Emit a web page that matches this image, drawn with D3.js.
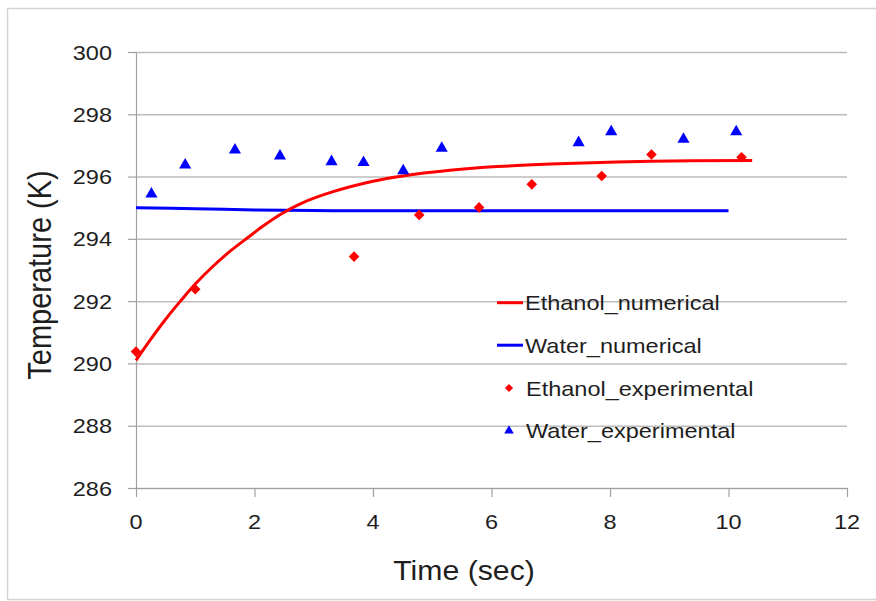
<!DOCTYPE html>
<html>
<head>
<meta charset="utf-8">
<script src="https://cdn.jsdelivr.net/npm/d3@7"></script>
<style>
  body { margin: 0; background: #fff; }
  text { font-family: "Liberation Sans", Arial, sans-serif; fill: #1e1e1e; }
</style>
</head>
<body>
<div id="chart-area"></div>
<script>
// Ethanol numerical curve
const ethNumTime = [0, 0.25, 0.5, 0.75, 1.0, 1.3, 1.6, 1.9, 2.15, 2.45, 2.8, 3.3, 4.0, 4.5, 5.3, 6.1, 7.0, 8.7, 10.4];
const ethNumTemp = [290.1, 290.78, 291.42, 292.0, 292.55, 293.12, 293.62, 294.06, 294.42, 294.8, 295.15, 295.5, 295.85, 296.02, 296.2, 296.32, 296.4, 296.49, 296.52];

// Water numerical curve
const watNumTime = [0, 1, 2, 3, 4, 6, 8, 10];
const watNumTemp = [295.0, 294.97, 294.93, 294.91, 294.9, 294.9, 294.9, 294.9];

// Ethanol experimental points
const ethExpTime = [0, 1.0, 3.68, 4.78, 5.79, 6.68, 7.86, 8.70, 10.22];
const ethExpTemp = [290.38, 292.38, 293.43, 294.77, 295.01, 295.75, 296.02, 296.71, 296.62];

// Water experimental points
const watExpTime = [0.26, 0.83, 1.67, 2.43, 3.30, 3.84, 4.51, 5.16, 7.47, 8.02, 9.24, 10.13];
const watExpTemp = [295.44, 296.37, 296.85, 296.66, 296.48, 296.45, 296.19, 296.91, 297.09, 297.44, 297.20, 297.44];

const xTicks = [0, 2, 4, 6, 8, 10, 12];
const yTicks = [286, 288, 290, 292, 294, 296, 298, 300];
const legendNames = ['Ethanol_numerical', 'Water_numerical', 'Ethanol_experimental', 'Water_experimental'];

const margin = { left: 136, right: 29, top: 52, bottom: 113 };
const width = 876 - margin.left - margin.right;
const height = 601 - margin.top - margin.bottom;
const stretch = 1.12;

const svg = d3.select('#chart-area').append('svg')
  .attr('width', 876)
  .attr('height', 601);

// outer frame
svg.append('rect')
  .attr('x', 7.5).attr('y', 8.5)
  .attr('width', 900).attr('height', 591)
  .attr('fill', 'none')
  .attr('stroke', '#d4d4d4')
  .attr('stroke-width', 1.5);

const g = svg.append('g')
  .attr('transform', `translate(${margin.left}, ${margin.top})`);

const x = d3.scaleLinear().domain([0, 12]).range([0, width]);
const y = d3.scaleLinear().domain([286, 300]).range([height, 0]);

// gridlines
g.append('g')
  .attr('class', 'grid')
  .call(d3.axisLeft(y).tickValues(yTicks).tickSize(-width).tickFormat(''))
  .call(a => a.select('.domain').remove())
  .selectAll('line')
    .attr('stroke', '#bdbdbd')
    .attr('stroke-width', 1.5);

// y axis
const yAxis = g.append('g')
  .attr('class', 'y-axis')
  .call(d3.axisLeft(y).tickValues(yTicks).tickSize(8).tickSizeOuter(0).tickFormat(''));
yAxis.selectAll('line, path').attr('stroke', '#a0a0a0').attr('stroke-width', 1.2);

// x axis
const xAxis = g.append('g')
  .attr('class', 'x-axis')
  .attr('transform', `translate(0, ${height})`)
  .call(d3.axisBottom(x).tickValues(xTicks).tickSize(9).tickSizeOuter(0).tickFormat(''));
xAxis.selectAll('line, path').attr('stroke', '#a0a0a0').attr('stroke-width', 1.2);

// tick labels (text is a bit wide in the original, so stretch it)
g.selectAll('.ylab')
  .data(yTicks)
  .enter().append('text')
    .attr('class', 'ylab')
    .attr('transform', d => `translate(-24, ${y(d) + 7.5}) scale(${stretch},1)`)
    .attr('text-anchor', 'end')
    .attr('font-size', '21px')
    .text(d => d);

g.selectAll('.xlab')
  .data(xTicks)
  .enter().append('text')
    .attr('class', 'xlab')
    .attr('transform', d => `translate(${x(d)}, ${height + 41}) scale(${stretch},1)`)
    .attr('text-anchor', 'middle')
    .attr('font-size', '21px')
    .text(d => d);

// axis titles
svg.append('text')
  .attr('transform', `translate(464, 580) scale(${stretch},1)`)
  .attr('text-anchor', 'middle')
  .attr('font-size', '27px')
  .text('Time (sec)');

svg.append('text')
  .attr('transform', `translate(51, 275) rotate(-90) scale(1,${stretch})`)
  .attr('text-anchor', 'middle')
  .attr('font-size', '29px')
  .text('Temperature (K)');

// lines
const line = d3.line()
  .x(d => x(d[0]))
  .y(d => y(d[1]))
  .curve(d3.curveCatmullRom.alpha(0.5));

g.append('path')
  .datum(watNumTime.map((t, i) => [t, watNumTemp[i]]))
  .attr('d', line)
  .attr('fill', 'none')
  .attr('stroke', '#0000ff')
  .attr('stroke-width', 3);

g.append('path')
  .datum(ethNumTime.map((t, i) => [t, ethNumTemp[i]]))
  .attr('d', line)
  .attr('fill', 'none')
  .attr('stroke', '#ff0000')
  .attr('stroke-width', 3);

// markers
const diamond = d3.symbol().type(d3.symbolSquare).size(56);
const triangle = d3.symbol().type(d3.symbolTriangle).size(64);

g.selectAll('.eth-exp')
  .data(ethExpTime.map((t, i) => [t, ethExpTemp[i]]))
  .enter().append('path')
    .attr('class', 'eth-exp')
    .attr('d', diamond)
    .attr('transform', d => `translate(${x(d[0])}, ${y(d[1])}) rotate(45)`)
    .attr('fill', '#ff0000');

g.selectAll('.wat-exp')
  .data(watExpTime.map((t, i) => [t, watExpTemp[i]]))
  .enter().append('path')
    .attr('class', 'wat-exp')
    .attr('d', triangle)
    .attr('transform', d => `translate(${x(d[0])}, ${y(d[1])})`)
    .attr('fill', '#0000ff');

// legend
const legend = svg.append('g').attr('class', 'legend');
const legendY = [302.7, 345.2, 388, 430.7];

legendNames.forEach((name, i) => {
  const ly = legendY[i];
  if (i === 0 || i === 1) {
    legend.append('line')
      .attr('x1', 497).attr('x2', 523)
      .attr('y1', ly).attr('y2', ly)
      .attr('stroke', i === 0 ? '#ff0000' : '#0000ff')
      .attr('stroke-width', 3);
  } else if (i === 2) {
    legend.append('path')
      .attr('d', d3.symbol().type(d3.symbolSquare).size(34))
      .attr('transform', `translate(509, ${ly}) rotate(45)`)
      .attr('fill', '#ff0000');
  } else {
    legend.append('path')
      .attr('d', d3.symbol().type(d3.symbolTriangle).size(40))
      .attr('transform', `translate(509, ${ly})`)
      .attr('fill', '#0000ff');
  }
  legend.append('text')
    .attr('transform', `translate(${i < 2 ? 525 : 526}, ${ly + 7.5}) scale(${stretch},1)`)
    .attr('font-size', '21px')
    .text(name);
});
</script>
</body>
</html>
